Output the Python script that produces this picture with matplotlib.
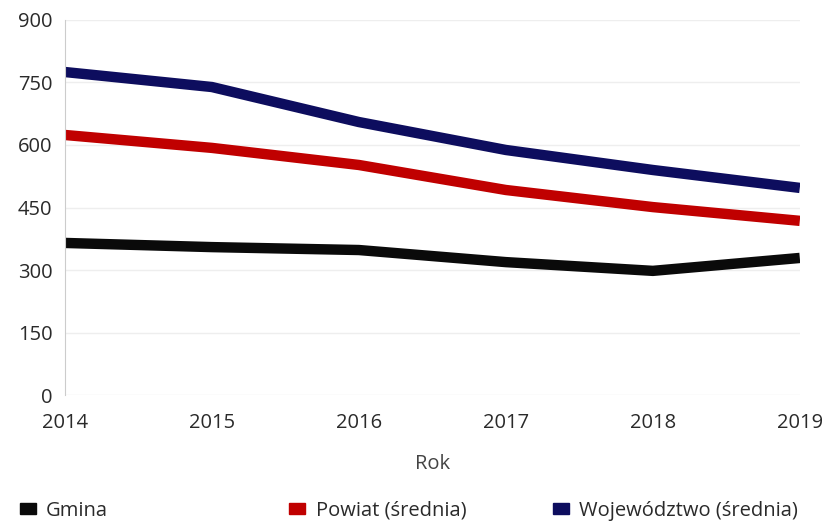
import matplotlib
matplotlib.use("Agg")
import matplotlib.pyplot as plt
from matplotlib.patches import Patch

years = [2014, 2015, 2016, 2017, 2018, 2019]
gmina = [365, 355, 348, 319, 298, 329]
powiat = [624, 593, 552, 492, 451, 418]
wojewodztwo = [775, 739, 655, 588, 540, 497]

series_names = ["Gmina", "Powiat (średnia)", "Województwo (średnia)"]
colors = ["#0a0a0a", "#c00000", "#0d0d5e"]
yticks = [0, 150, 300, 450, 600, 750, 900]

plt.rcParams['font.family'] = ['Open Sans', 'DejaVu Sans']

fig = plt.figure(figsize=(8.22, 5.24), dpi=100)
ax = fig.add_axes([0.079, 0.246, 0.894, 0.716])

for vals, c in zip([gmina, powiat, wojewodztwo], colors):
    ax.plot(years, vals, color=c, lw=7.5, solid_capstyle='butt', solid_joinstyle='round')

ax.set_xlim(years[0], years[-1])
ax.set_ylim(0, 900)
ax.set_yticks(yticks)
ax.set_xticks(years)
ax.grid(axis='y', color='#eeeeee', lw=1)
ax.set_axisbelow(True)
for s in ['top', 'right', 'bottom']:
    ax.spines[s].set_visible(False)
ax.spines['left'].set_color('#cccccc')
ax.tick_params(length=0, labelsize=14.5, colors='#2a2a2a')
ax.tick_params(axis='y', pad=9)
ax.tick_params(axis='x', pad=13)
ax.set_xlabel("Rok", fontsize=14.5, color='#444444', labelpad=15)

# three legend entries placed at their own column positions
xs = [0.024, 0.352, 0.673]
for name, c, x0 in zip(series_names, colors, xs):
    fig.legend([Patch(color=c)], [name], loc='center left',
               bbox_to_anchor=(x0, 0.025), frameon=False, fontsize=14.5,
               handlelength=0.8, handleheight=0.42, handletextpad=0.5,
               borderpad=0, borderaxespad=0, labelcolor='#2a2a2a')

fig.savefig("out.png", dpi=100)
